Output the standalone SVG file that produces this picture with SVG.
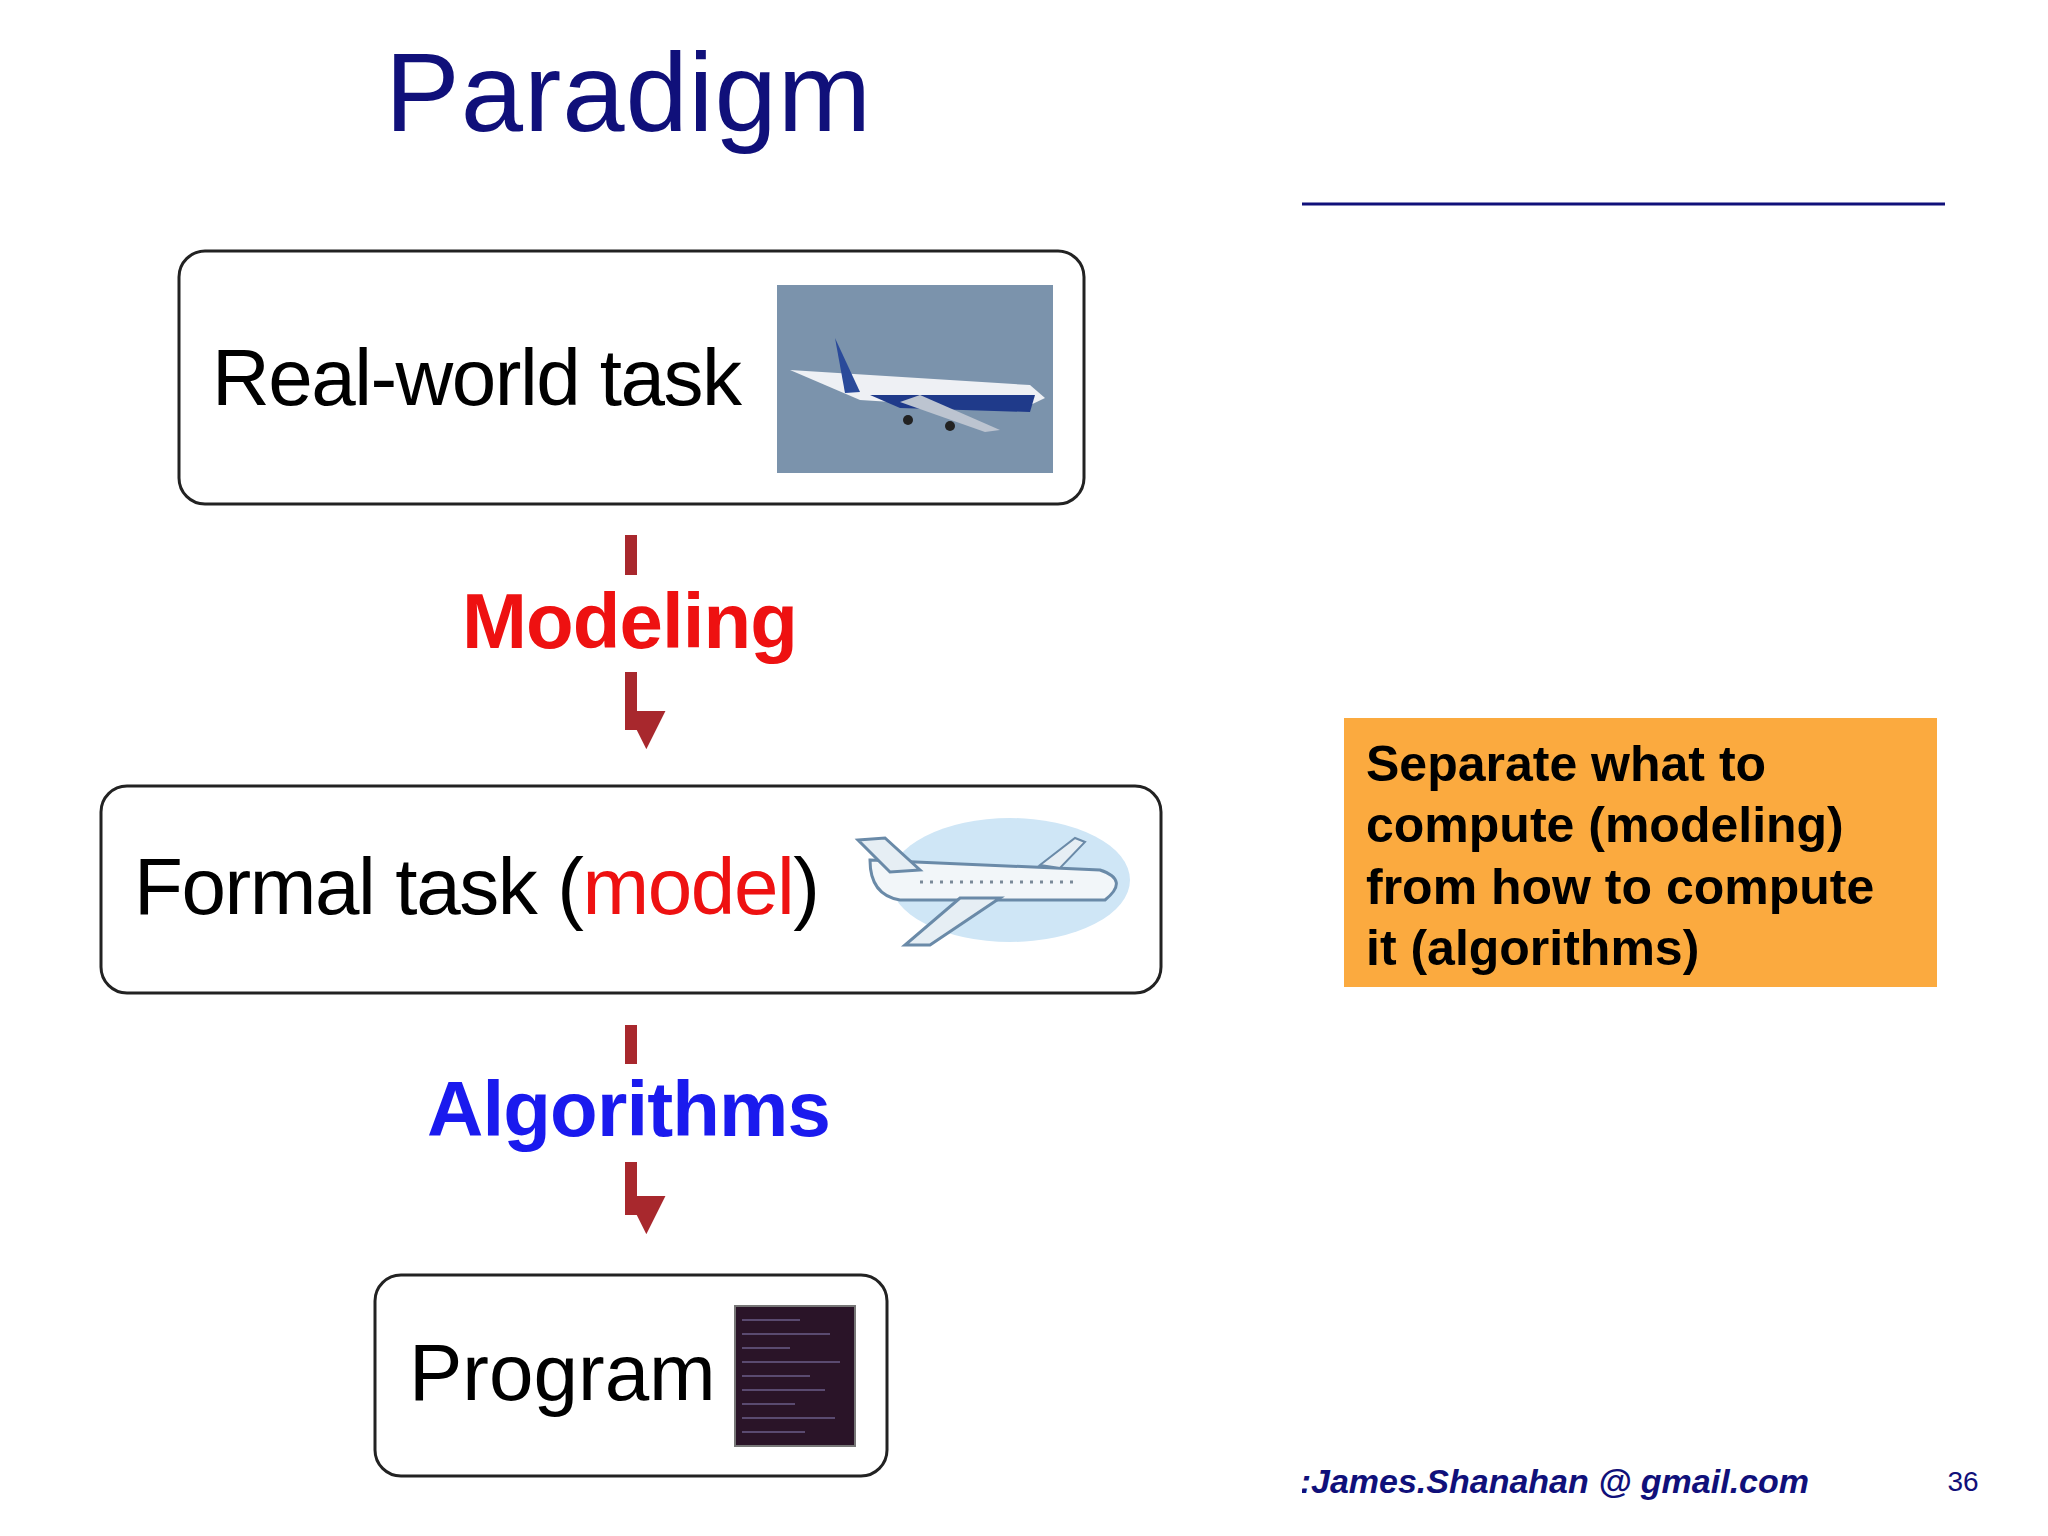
<svg xmlns="http://www.w3.org/2000/svg" width="2048" height="1536" viewBox="0 0 2048 1536">
<style>
.box{fill:#fff;stroke:#222;stroke-width:3}
.t{font-family:"Liberation Sans",Arial,sans-serif}
.lbl{font-size:80px;fill:#000}
.arr{stroke:#a8282d;stroke-width:12;fill:none}
.ot{font-family:"Liberation Sans",Arial,sans-serif;font-weight:bold;font-size:50px;fill:#000}
</style>
<defs>
<marker id="ah" viewBox="0 0 10 10" refX="5" refY="9" markerWidth="3.2" markerHeight="3.8" orient="auto-start-reverse" markerUnits="strokeWidth">
<path d="M0,0 L10,0 L5,10 Z" fill="#a8282d" transform="rotate(-90 5 5)"/>
</marker>
<clipPath id="fc"><rect x="1302" y="1440" width="700" height="80"/></clipPath>
</defs>
<rect width="2048" height="1536" fill="#fff"/>
<text class="t" x="628" y="131" text-anchor="middle" font-size="112" fill="#10107a" textLength="486">Paradigm</text>
<line x1="1302" y1="204" x2="1945" y2="204" stroke="#10107a" stroke-width="3"/>
<g id="real">
<rect class="box" x="179" y="251" width="905" height="253" rx="26"/>
<text class="t lbl" x="212" y="405" textLength="530">Real-world task</text>
<rect x="777" y="285" width="276" height="188" fill="#7b93ac"/>
<path d="M790,370 L1030,385 L1045,398 L1020,410 L860,400 Z" fill="#eef0f4"/>
<path d="M870,395 L1035,395 L1030,412 L900,408 Z" fill="#1f3a8a"/>
<path d="M835,338 L860,392 L845,393 Z" fill="#2a4a9a"/>
<path d="M920,395 L1000,430 L985,432 L900,402 Z" fill="#bcc4d0"/>
<circle cx="908" cy="420" r="5" fill="#222"/><circle cx="950" cy="426" r="5" fill="#222"/>
</g>
<g id="formal">
<rect class="box" x="101" y="786" width="1060" height="207" rx="26"/>
<text class="t lbl" x="134" y="914" textLength="686"><tspan>Formal task (</tspan><tspan fill="#ee1111">model</tspan><tspan>)</tspan></text>
<ellipse cx="1010" cy="880" rx="120" ry="62" fill="#cfe6f6"/>
<path d="M870,860 L1100,870 Q1130,880 1105,900 L900,900 Q870,895 870,860 Z" fill="#f2f6f9" stroke="#6a8aa8" stroke-width="3"/>
<path d="M858,840 L885,838 L920,870 L890,872 Z" fill="#e6eef4" stroke="#6a8aa8" stroke-width="3"/>
<path d="M960,898 L1000,898 L930,945 L905,945 Z" fill="#e6eef4" stroke="#6a8aa8" stroke-width="3"/>
<path d="M1040,865 L1075,838 L1085,842 L1060,868 Z" fill="#e6eef4" stroke="#6a8aa8" stroke-width="2"/>
<line x1="920" y1="882" x2="1080" y2="882" stroke="#7a8a99" stroke-width="3" stroke-dasharray="3 7"/>
</g>
<g id="program">
<rect class="box" x="375" y="1275" width="512" height="201" rx="26"/>
<text class="t lbl" x="409" y="1400">Program</text>
<rect x="735" y="1306" width="120" height="140" fill="#2a1428" stroke="#777" stroke-width="2"/>
<g stroke="#5a4a70" stroke-width="2">
<line x1="742" y1="1320" x2="800" y2="1320"/><line x1="742" y1="1334" x2="830" y2="1334"/><line x1="742" y1="1348" x2="790" y2="1348"/><line x1="742" y1="1362" x2="840" y2="1362"/><line x1="742" y1="1376" x2="810" y2="1376"/><line x1="742" y1="1390" x2="825" y2="1390"/><line x1="742" y1="1404" x2="795" y2="1404"/><line x1="742" y1="1418" x2="835" y2="1418"/><line x1="742" y1="1432" x2="805" y2="1432"/>
</g>
</g>
<g id="connectors">
<line class="arr" x1="631" y1="535" x2="631" y2="575"/>
<line class="arr" x1="631" y1="672" x2="631" y2="730" marker-end="url(#ah)"/>
<line class="arr" x1="631" y1="1025" x2="631" y2="1064"/>
<line class="arr" x1="631" y1="1162" x2="631" y2="1215" marker-end="url(#ah)"/>
</g>
<text class="t" x="630" y="648" text-anchor="middle" font-size="78" font-weight="bold" fill="#ee1111" textLength="336">Modeling</text>
<text class="t" x="629" y="1136" text-anchor="middle" font-size="78" font-weight="bold" fill="#1a1aee" textLength="404">Algorithms</text>
<g id="note">
<rect x="1344" y="718" width="593" height="269" fill="#fbaa3f"/>
<text class="ot" x="1366" y="781">Separate what to</text>
<text class="ot" x="1366" y="842">compute (modeling)</text>
<text class="ot" x="1366" y="904">from how to compute</text>
<text class="ot" x="1366" y="965">it (algorithms)</text>
</g>
<g clip-path="url(#fc)">
<text class="t" x="1809" y="1493" text-anchor="end" font-size="34" font-weight="bold" font-style="italic" fill="#10107a">Contact:James.Shanahan @ gmail.com</text>
</g>
<text class="t" x="1963" y="1491" text-anchor="middle" font-size="28" fill="#10107a">36</text>
</svg>
